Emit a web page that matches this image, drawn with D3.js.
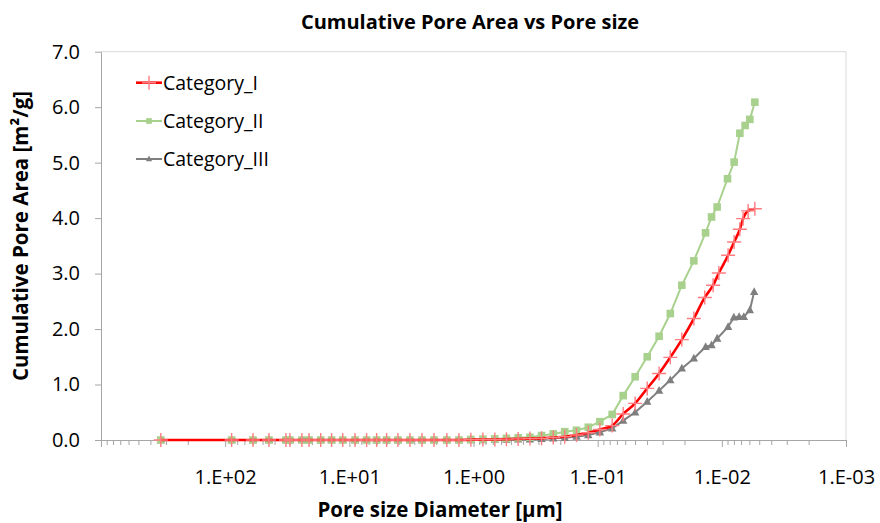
<!DOCTYPE html>
<html>
<head>
<meta charset="utf-8">
<script src="https://cdn.jsdelivr.net/npm/d3@7"></script>
<style>
  html, body { margin: 0; padding: 0; background: #fff; }
  svg { display: block; font-family: "Open Sans", "Liberation Sans", sans-serif; }
</style>
</head>
<body>
<svg id="chart" width="880" height="523"></svg>
<script>
// ---- data (pore diameter in µm, cumulative pore area in m²/g) ----
const sizeCommon = [330, 88.7, 59.7, 44.4, 32.4, 30.1, 24.1, 21.1, 17.0, 13.9, 11.3, 9.0, 7.26, 6.03, 5.01,
  4.06, 3.25, 2.60, 2.08, 1.64, 1.31, 1.05, 0.84, 0.673, 0.543, 0.437, 0.351, 0.283, 0.228, 0.184, 0.148,
  0.119, 0.096, 0.0764, 0.0623, 0.0499, 0.0399, 0.0320, 0.0260, 0.0210, 0.0168];

const sizeTailI   = [0.01372, 0.01175, 0.01057, 0.00890, 0.00796, 0.00716, 0.00674, 0.00614, 0.00542];
const sizeTailII  = [0.01353, 0.0121, 0.01091, 0.0090, 0.00796, 0.00716, 0.00649, 0.00595, 0.00542];
const sizeTailIII = [0.0135, 0.0121, 0.0109, 0.0089, 0.0080, 0.00726, 0.00665, 0.00595, 0.00549];

const areaI = [0, 0, 0, 0, 0, 0, 0, 0, 0, 0, 0, 0, 0, 0, 0, 0, 0, 0, 0, 0, 0,
  0.005, 0.01, 0.01, 0.015, 0.02, 0.025, 0.03, 0.045, 0.06, 0.09, 0.13, 0.19, 0.26, 0.47, 0.66, 0.93,
  1.20, 1.49, 1.81, 2.19,
  2.57, 2.79, 3.01, 3.33, 3.57, 3.80, 3.99, 4.13, 4.17];

const areaII = [0, 0, 0, 0, 0, 0, 0, 0, 0, 0, 0, 0, 0, 0, 0, 0, 0, 0, 0, 0, 0,
  0.01, 0.015, 0.02, 0.03, 0.04, 0.05, 0.08, 0.11, 0.15, 0.175, 0.23, 0.33, 0.46, 0.80, 1.14, 1.50,
  1.87, 2.28, 2.79, 3.23,
  3.735, 4.02, 4.20, 4.71, 5.01, 5.53, 5.67, 5.78, 6.09];

const areaIII = [0, 0, 0, 0, 0, 0, 0, 0, 0, 0, 0, 0, 0, 0, 0, 0, 0, 0, 0, 0, 0,
  0, 0, 0.005, 0.005, 0.01, 0.01, 0.02, 0.03, 0.04, 0.06, 0.09, 0.14, 0.21, 0.35, 0.50, 0.69,
  0.89, 1.08, 1.29, 1.47,
  1.68, 1.71, 1.83, 2.04, 2.21, 2.22, 2.22, 2.34, 2.67];

const seriesNames = ["Category_I", "Category_II", "Category_III"];
const xTickValues = [1e2, 1e1, 1e0, 1e-1, 1e-2, 1e-3];
const xTickLabels = ["1.E+02", "1.E+01", "1.E+00", "1.E-01", "1.E-02", "1.E-03"];
const yTickValues = [0, 1, 2, 3, 4, 5, 6, 7];

const chartTitle = "Cumulative Pore Area vs Pore size";
const xTitle = "Pore size Diameter [µm]";
const yTitle = "Cumulative Pore Area [m²/g]";

// ---- build ----
const svg = d3.select("#chart");
const plotL = 101, plotR = 846, plotT = 51.7, plotB = 440;
const axisColor = "#A6A6A6";

const x = d3.scaleLog().domain([1000, 0.001]).range([plotL, plotR]);
const y = d3.scaleLinear().domain([0, 7]).range([plotB, plotT]);

const series = [
  { name: seriesNames[0], sizes: sizeCommon.concat(sizeTailI), vals: areaI, color: "#FF0000", mcolor: "#FF7C80", marker: "cross", width: 2.6, smooth: true },
  { name: seriesNames[1], sizes: sizeCommon.concat(sizeTailII), vals: areaII, color: "#A9D18E", mcolor: "#A9D18E", marker: "square", width: 2, smooth: false },
  { name: seriesNames[2], sizes: sizeCommon.concat(sizeTailIII), vals: areaIII, color: "#7F7F7F", mcolor: "#7F7F7F", marker: "triangle", width: 2, smooth: false }
];

// plot border (top & right)
svg.append("path")
  .attr("d", `M${plotL},${plotT}H${plotR}V${plotB}`)
  .attr("fill", "none").attr("stroke", "#D9D9D9").attr("stroke-width", 1);

// x axis: major + minor ticks
const minorTicks = [];
for (let e = 2; e >= -3; e--) {
  for (let m = 2; m <= 9; m++) minorTicks.push(m * Math.pow(10, e));
}
const xMinor = svg.append("g").attr("transform", `translate(0,${plotB})`)
  .call(d3.axisBottom(x).tickValues(minorTicks).tickSize(5).tickFormat(""));
xMinor.select(".domain").remove();
xMinor.selectAll("line").attr("stroke", axisColor);

const xAxis = svg.append("g").attr("transform", `translate(0,${plotB})`)
  .call(d3.axisBottom(x).tickValues([1e3].concat(xTickValues)).tickSize(7).tickSizeOuter(0)
    .tickFormat(d => { const i = xTickValues.indexOf(d); return i >= 0 ? xTickLabels[i] : ""; }));
xAxis.select(".domain").attr("stroke", axisColor);
xAxis.selectAll("line").attr("stroke", axisColor);
xAxis.selectAll("text").attr("font-size", 20).attr("fill", "#000").attr("dy", "1.7em")
  .attr("font-family", "'Open Sans', sans-serif");

// y axis
const yAxis = svg.append("g").attr("transform", `translate(${plotL},0)`)
  .call(d3.axisLeft(y).tickValues(yTickValues).tickSize(6).tickSizeOuter(0).tickFormat(d3.format(".1f")));
yAxis.select(".domain").attr("stroke", axisColor);
yAxis.selectAll("line").attr("stroke", axisColor);
yAxis.selectAll("text").attr("font-size", 20).attr("fill", "#000").attr("x", -21)
  .attr("font-family", "'Open Sans', sans-serif");

// markers
function drawMarker(g, type, cx, cy, color, scale) {
  const s = scale || 1;
  if (type === "cross") {
    g.append("path").attr("d", `M${cx - 7 * s},${cy}H${cx + 7 * s}M${cx},${cy - 7 * s}V${cy + 7 * s}`)
      .attr("stroke", color).attr("stroke-width", 1.4).attr("fill", "none");
  } else if (type === "square") {
    const h = 3.8 * s;
    g.append("rect").attr("x", cx - h).attr("y", cy - h).attr("width", 2 * h).attr("height", 2 * h).attr("fill", color);
  } else {
    const h = 4.2 * s;
    g.append("path").attr("d", `M${cx},${cy - h * 1.1}L${cx + h},${cy + h * 0.75}L${cx - h},${cy + h * 0.75}Z`).attr("fill", color);
  }
}

// draw series (gray, green first, red on top)
[series[2], series[1], series[0]].forEach(s => {
  const pts = s.sizes.map((d, i) => [x(d), y(s.vals[i])]);
  const line = d3.line().curve(s.smooth ? d3.curveMonotoneX : d3.curveLinear);
  const g = svg.append("g");
  g.append("path").attr("d", line(pts)).attr("fill", "none").attr("stroke", s.color)
    .attr("stroke-width", s.width).attr("stroke-linejoin", "round");
  pts.forEach(p => drawMarker(g, s.marker, p[0], p[1], s.mcolor));
});

// legend
const legendY = [82.7, 121, 159];
series.forEach((s, i) => {
  const g = svg.append("g");
  g.append("line").attr("x1", 136).attr("x2", 162).attr("y1", legendY[i]).attr("y2", legendY[i])
    .attr("stroke", s.color).attr("stroke-width", s.width);
  drawMarker(g, s.marker, 149, legendY[i], s.mcolor, s.marker === "cross" ? 1 : 0.75);
  g.append("text").attr("x", 163).attr("y", legendY[i]).attr("dy", "0.36em")
    .attr("font-size", 19.5).attr("fill", "#000").text(s.name);
});

// titles
svg.append("text").attr("x", 470).attr("y", 29).attr("text-anchor", "middle")
  .attr("font-size", 20).attr("font-weight", "bold").attr("fill", "#000").text(chartTitle);
svg.append("text").attr("x", 440).attr("y", 517).attr("text-anchor", "middle")
  .attr("font-size", 20.5).attr("font-weight", "bold").attr("fill", "#000").text(xTitle);
svg.append("text").attr("transform", "translate(28,236) rotate(-90)").attr("text-anchor", "middle")
  .attr("font-size", 20.5).attr("font-weight", "bold").attr("fill", "#000").text(yTitle);
</script>
</body>
</html>
